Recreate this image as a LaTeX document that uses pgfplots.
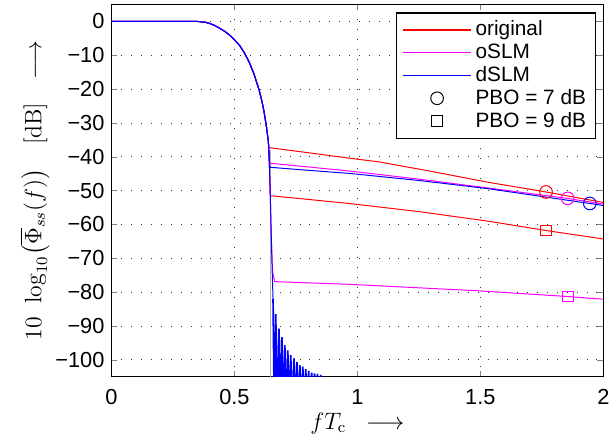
\documentclass[border=0pt]{standalone}
\usepackage[no-math]{fontspec}
\setmainfont{Liberation Sans}
\usepackage{amsmath}
\usepackage{pgfplots}
\pgfplotsset{compat=1.18}
\definecolor{cred}{RGB}{255,0,0}
\definecolor{cmag}{RGB}{255,0,255}
\definecolor{cblue}{RGB}{0,0,255}

\begin{document}
\begin{tikzpicture}
\begin{axis}[
    scale only axis,
    width=248.5pt, height=188pt,
    xmin=0, xmax=2, ymin=-105, ymax=5,
    xtick={0,0.5,1,1.5,2},
    xticklabels={0,0.5,1,1.5,2},
    ytick={-100,-90,...,0},
    yticklabels={−100,−90,−80,−70,−60,−50,−40,−30,−20,−10,0},
    tick align=inside,
    major tick length=3pt,
    axis line style={line width=0.6pt},
    grid=major,
    major grid style={black!80, line width=0.4pt, dash pattern=on 0.5pt off 4.5pt},
    ticklabel style={font=\fontsize{11}{13}\selectfont},
    xticklabel style={yshift=-3pt},
    label style={font=\fontsize{12}{14}\selectfont},
    xlabel={$fT_{\mathrm{c}}\;\;\longrightarrow$},
    xlabel style={yshift=3pt},
    ylabel={\makebox[155pt]{$10$\hspace{5pt plus 1fil}$\log_{10}\bigl(\overline{\Phi}_{ss}(f)\bigr)$\hspace{10pt plus 1fil}$[\mathrm{dB}]$\hspace{10pt plus 1fil}$\longrightarrow$}},
    ylabel style={yshift=-4pt},
    legend style={at={(0.986,0.979)}, anchor=north east, draw=black, line width=0.6pt,
        font=\fontsize{10.5}{12.5}\selectfont, cells={anchor=west}, row sep=-1.5pt,
        inner xsep=3pt, inner ysep=2pt},
    legend image code/.code={\draw[mark repeat=2,mark phase=2,#1] plot coordinates {(0cm,0cm) (0.6cm,0cm) (1.2cm,0cm)};},
    every axis plot/.append style={line width=0.5pt},
]
% legend entries
\addlegendimage{cred, line width=0.8pt}
\addlegendentry{original}
\addlegendimage{cmag, line width=0.8pt}
\addlegendentry{oSLM}
\addlegendimage{cblue, line width=0.8pt}
\addlegendentry{dSLM}
\addlegendimage{black, only marks, mark=o, mark size=3.2pt}
\addlegendentry{PBO = 7 dB}
\addlegendimage{black, only marks, mark=square, mark size=2.7pt}
\addlegendentry{PBO = 9 dB}

% ideal edge
\addplot[gray!60, forget plot] coordinates {(0.648,-38) (0.648,-110)};

% original, PBO = 9 dB
\addplot[cred, forget plot] coordinates {
 (0,0) (0.35,0) (0.38,-0.2) (0.40,-0.6) (0.42,-1.2) (0.44,-2.0) (0.46,-2.9) (0.48,-4.0)
 (0.50,-5.4) (0.52,-7.0) (0.54,-9.2) (0.56,-12.0) (0.58,-15.6) (0.60,-20.2) (0.61,-23.0)
 (0.62,-26.5) (0.63,-31) (0.638,-35.5) (0.642,-42) (0.646,-51.5)
 (0.8,-52.6) (0.966,-53.8) (1.25,-56.2) (1.529,-59.0) (1.768,-61.8) (2,-64.3)
};
% original, PBO = 7 dB
\addplot[cred, forget plot] coordinates {
 (0,0) (0.35,0) (0.38,-0.2) (0.40,-0.6) (0.42,-1.2) (0.44,-2.0) (0.46,-2.9) (0.48,-4.0)
 (0.50,-5.4) (0.52,-7.0) (0.54,-9.2) (0.56,-12.0) (0.58,-15.6) (0.60,-20.2) (0.61,-23.0)
 (0.62,-26.5) (0.63,-31) (0.638,-35.5) (0.641,-37.3)
 (0.8,-38.8) (0.966,-40.4) (1.087,-41.5) (1.3,-44.3) (1.529,-47.5) (1.767,-50.4) (2,-53.5)
};
% oSLM, PBO = 9 dB
\addplot[cmag, forget plot] coordinates {
 (0,0) (0.35,0) (0.38,-0.2) (0.40,-0.6) (0.42,-1.2) (0.44,-2.0) (0.46,-2.9) (0.48,-4.0)
 (0.50,-5.4) (0.52,-7.0) (0.54,-9.2) (0.56,-12.0) (0.58,-15.6) (0.60,-20.2) (0.61,-23.0)
 (0.62,-26.5) (0.63,-31) (0.638,-35.5) (0.642,-42) (0.646,-52) (0.650,-64) (0.654,-72)
 (0.657,-74.8) (0.664,-76.9) (0.966,-77.7) (1.489,-79.6) (1.855,-81.3) (2,-82.1)
};
% oSLM, PBO = 7 dB
\addplot[cmag, forget plot] coordinates {
 (0,0) (0.35,0) (0.38,-0.2) (0.40,-0.6) (0.42,-1.2) (0.44,-2.0) (0.46,-2.9) (0.48,-4.0)
 (0.50,-5.4) (0.52,-7.0) (0.54,-9.2) (0.56,-12.0) (0.58,-15.6) (0.60,-20.2) (0.61,-23.0)
 (0.62,-26.5) (0.63,-31) (0.638,-35.5) (0.643,-41.9)
 (0.8,-43.0) (0.966,-44.2) (1.25,-46.6) (1.529,-49.2) (1.855,-52.3) (2,-54.0)
};
% dSLM, PBO = 9 dB (main lobe)
\addplot[cblue, forget plot] coordinates {
 (0,0) (0.35,0) (0.38,-0.2) (0.40,-0.6) (0.42,-1.2) (0.44,-2.0) (0.46,-2.9) (0.48,-4.0)
 (0.50,-5.4) (0.52,-7.0) (0.54,-9.2) (0.56,-12.0) (0.58,-15.6) (0.60,-20.2) (0.61,-23.0)
 (0.62,-26.5) (0.63,-31) (0.638,-35.5) (0.642,-42) (0.646,-52) (0.650,-64) (0.654,-75)
 (0.657,-82)
};
% dSLM, PBO = 9 dB (side lobes)
\addplot[cblue, forget plot, line width=0.85pt] coordinates {
 (0.657,-82) (0.662,-115)
 (0.668,-86.5) (0.674,-115) (0.681,-90.8) (0.687,-115) (0.693,-93.3) (0.699,-115)
 (0.705,-95.7) (0.711,-115) (0.717,-97.2) (0.723,-115) (0.729,-98.6) (0.735,-115)
 (0.742,-99.6) (0.748,-115) (0.754,-100.6) (0.760,-115) (0.766,-101.6) (0.772,-115)
 (0.778,-102.0) (0.784,-115) (0.790,-102.8) (0.796,-115) (0.802,-103.3) (0.808,-115)
 (0.814,-103.8) (0.820,-115) (0.826,-104.0) (0.832,-115) (0.838,-104.2) (0.844,-115)
 (0.851,-104.5) (0.857,-115) (2,-140)
};
% dSLM, PBO = 7 dB
\addplot[cblue, forget plot] coordinates {
 (0,0) (0.35,0) (0.38,-0.2) (0.40,-0.6) (0.42,-1.2) (0.44,-2.0) (0.46,-2.9) (0.48,-4.0)
 (0.50,-5.4) (0.52,-7.0) (0.54,-9.2) (0.56,-12.0) (0.58,-15.6) (0.60,-20.2) (0.61,-23.0)
 (0.62,-26.5) (0.63,-31) (0.638,-35.5) (0.644,-43.1)
 (0.8,-44.0) (0.966,-44.9) (1.25,-47.0) (1.529,-49.4) (1.945,-53.8) (2,-54.4)
};

% markers
\addplot[cred, only marks, mark=o, mark size=3.2pt, forget plot] coordinates {(1.767,-50.4)};
\addplot[cmag, only marks, mark=o, mark size=3.2pt, forget plot] coordinates {(1.855,-52.3)};
\addplot[cblue, only marks, mark=o, mark size=3.2pt, forget plot] coordinates {(1.945,-53.8)};
\addplot[cred, only marks, mark=square, mark size=2.7pt, forget plot] coordinates {(1.768,-61.8)};
\addplot[cmag, only marks, mark=square, mark size=2.7pt, forget plot] coordinates {(1.855,-81.3)};
\end{axis}
\path ([xshift=-7pt]current bounding box.west) ([yshift=2pt]current bounding box.north)
      ([yshift=-2pt]current bounding box.south);
\end{tikzpicture}
\end{document}
